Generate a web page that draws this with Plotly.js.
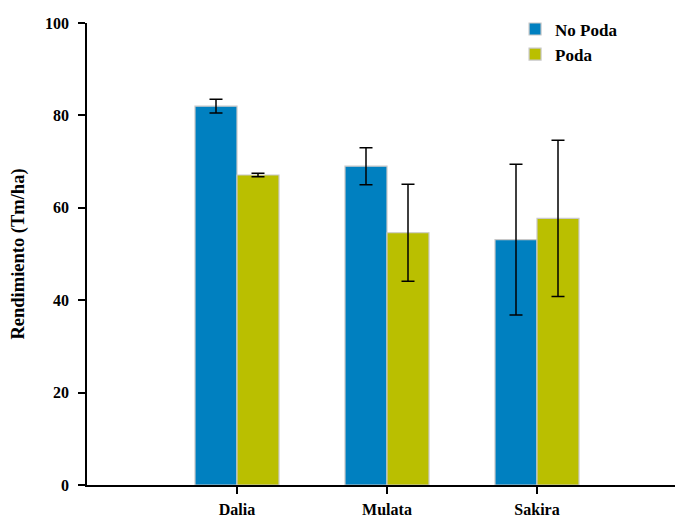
<!DOCTYPE html>
<html>
<head>
<meta charset="utf-8">
<script src="https://cdn.plot.ly/plotly-3.0.1.min.js"></script>
<style>html,body{margin:0;padding:0;background:#fff}#chart{width:679px;height:517px}</style>
</head>
<body>
<div id="chart"></div>
<script>
const categories = ["Dalia", "Mulata", "Sakira"];
const noPoda = [82.0, 69.0, 53.1];
const noPodaErr = [1.5, 4.0, 16.3];
const poda = [67.1, 54.6, 57.7];
const podaErr = [0.4, 10.5, 16.9];
const yTicks = [0, 20, 40, 60, 80, 100];

const fontFam = '"Liberation Serif", "Times New Roman", serif';
const errStyle = {type: 'data', visible: true, color: '#000', thickness: 1.5, width: 6.5};

const traces = [
  {type: 'bar', name: 'No Poda', x: categories, y: noPoda,
   error_y: Object.assign({array: noPodaErr}, errStyle),
   marker: {color: '#0080C0', line: {color: '#C8C8C8', width: 1.2}}},
  {type: 'bar', name: 'Poda', x: categories, y: poda,
   error_y: Object.assign({array: podaErr}, errStyle),
   marker: {color: '#BABF00', line: {color: '#C8C8C8', width: 1.2}}}
];

const layout = {
  width: 679, height: 517,
  margin: {l: 87, r: 4, t: 23, b: 32, pad: 0},
  paper_bgcolor: '#fff', plot_bgcolor: '#fff',
  font: {family: fontFam, color: '#000', size: 16},
  barmode: 'group', bargap: 0.44, bargroupgap: 0,
  showlegend: true,
  legend: {x: 0.728, y: 1.025, xanchor: 'left', yanchor: 'top',
           font: {family: fontFam, size: 17, weight: 'bold', color: '#000'},
           bgcolor: 'rgba(0,0,0,0)', tracegroupgap: 0, itemwidth: 30},
  xaxis: {type: 'category', range: [-1, 2.92], showgrid: false, zeroline: false,
          showline: true, linecolor: '#000', linewidth: 1.5,
          ticks: 'outside', ticklen: 7, tickwidth: 1.5, tickcolor: '#000',
          ticklabelstandoff: 2,
          tickfont: {family: fontFam, size: 16, weight: 'bold', color: '#000'}},
  yaxis: {range: [0, 100], tickvals: yTicks, showgrid: false, zeroline: false,
          showline: true, linecolor: '#000', linewidth: 1.5,
          ticks: 'outside', ticklen: 7, tickwidth: 1.5, tickcolor: '#000',
          ticklabelstandoff: 6,
          tickfont: {family: fontFam, size: 16, weight: 'bold', color: '#000'},
          title: {text: 'Rendimiento (Tm/ha)', standoff: 16,
                  font: {family: fontFam, size: 18.5, weight: 'bold', color: '#000'}}}
};

Plotly.newPlot('chart', traces, layout, {displayModeBar: false, responsive: false});
</script>
</body>
</html>
